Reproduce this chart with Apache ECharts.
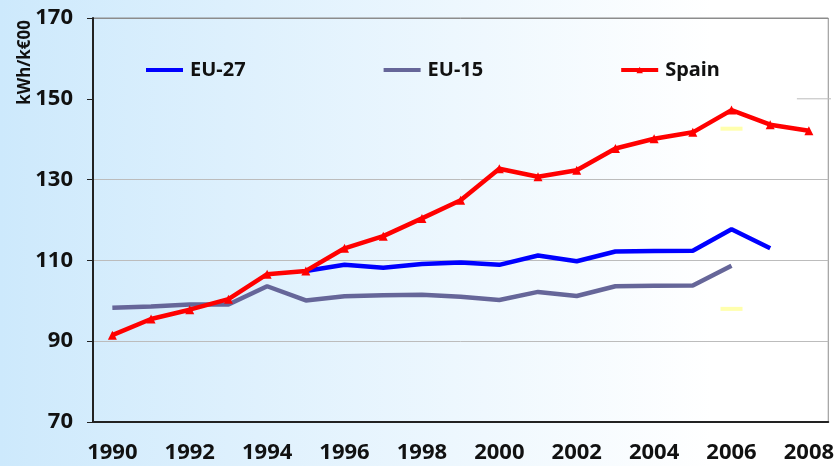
<!DOCTYPE html>
<html>
<head>
<meta charset="utf-8">
<script src="https://cdn.jsdelivr.net/npm/echarts@6/dist/echarts.min.js"></script>
<style>
  html, body { margin: 0; padding: 0; }
  #main { width: 837px; height: 466px; }
</style>
</head>
<body>
<div id="main"></div>
<script>
// 年份
let years = ["1990","1991","1992","1993","1994","1995","1996","1997","1998","1999",
             "2000","2001","2002","2003","2004","2005","2006","2007","2008"]
// 各系列数值 (kWh/k€00)
let eu27 = ["-","-","-","-","-",107.4,108.9,108.2,109.1,109.5,108.9,111.2,109.8,112.2,112.3,112.4,117.7,113.0,"-"]
let eu15 = [98.3,98.6,99.1,99.1,103.6,100.1,101.1,101.4,101.5,101.0,100.2,102.2,101.2,103.6,103.7,103.8,108.7,"-","-"]
let spain = [91.5,95.5,97.8,100.4,106.6,107.4,113.0,116.0,120.4,124.9,132.7,130.7,132.3,137.7,140.1,141.7,147.2,143.6,142.1]
// 2006 的黄色短线
let yellowMarks = [["2006",142.6],["2006",98.0]]

let font = "Noto Sans"
let myChart = echarts.init(document.getElementById('main'))

// 图例里 EU 两条线不要圆点
let noDot = { color: 'rgba(0,0,0,0)', borderWidth: 0 }

var option = {
  backgroundColor: new echarts.graphic.LinearGradient(0, 0, 1, 0, [
    { offset: 0, color: '#cde9fc' },
    { offset: 0.85, color: '#ffffff' },
    { offset: 1, color: '#ffffff' }
  ]),
  animation: false,
  grid: {
    left: 93, right: 6, top: 18, bottom: 44,
    show: true, borderColor: '#8c8c8c', borderWidth: 1,
    backgroundColor: 'transparent'
  },
  legend: {
    data: [
      { name: 'EU-27', itemStyle: noDot },
      { name: 'EU-15', itemStyle: noDot },
      { name: 'Spain' }
    ],
    left: 144, top: 60, padding: 0,
    itemWidth: 37, itemHeight: 8, itemGap: 136,
    lineStyle: { width: 4 },
    textStyle: { fontFamily: font, fontWeight: 'bold', fontSize: 20, color: '#111', padding: [0, 0, 0, 2] }
  },
  xAxis: {
    type: 'category',
    data: years,
    boundaryGap: true,
    axisLine: { lineStyle: { color: '#222', width: 2 } },
    axisTick: { interval: 0, length: 6, lineStyle: { color: '#222' } },
    axisLabel: { interval: 1, margin: 20, fontFamily: font, fontWeight: 'bold', fontSize: 22, color: '#111' }
  },
  yAxis: {
    type: 'value',
    min: 70, max: 170, interval: 20,
    axisLine: { show: true, lineStyle: { color: '#222', width: 2 } },
    axisTick: { show: true, length: 6, lineStyle: { color: '#222' } },
    axisLabel: { margin: 20, fontFamily: font, fontWeight: 'bold', fontSize: 22, color: '#111' },
    splitLine: { lineStyle: { color: ['#bcbcbc', '#bcbcbc', '#bcbcbc', '#bcbcbc', 'rgba(0,0,0,0)', '#8c8c8c'] } }
  },
  graphic: [{
    type: 'text', left: 17, top: 20,
    rotation: Math.PI / 2,
    style: { text: 'kWh/k€00', fontFamily: font, fontWeight: 'bold', fontSize: 17, fill: '#111' }
  }],
  series: [
    {
      name: 'EU-15', type: 'line', data: eu15,
      symbol: 'none', color: '#666699',
      lineStyle: { width: 4.5, color: '#666699' }
    },
    {
      name: 'EU-27', type: 'line', data: eu27,
      symbol: 'none', color: '#0000ff',
      lineStyle: { width: 4.5, color: '#0000ff' }
    },
    {
      name: 'Spain', type: 'line', data: spain,
      symbol: 'triangle', symbolSize: 9, color: '#ff0000',
      itemStyle: { color: '#ff0000' },
      lineStyle: { width: 4.5, color: '#ff0000' }
    },
    {
      name: 'marks', type: 'scatter', data: yellowMarks,
      symbol: 'rect', symbolSize: [22, 4],
      itemStyle: { color: '#ffff99' }, z: 1
    }
  ]
}
myChart.setOption(option)

// 150 网格线只在图例框右边露出一小段
let y150 = myChart.convertToPixel({ yAxisIndex: 0 }, 150)
let xEnd = myChart.convertToPixel({ xAxisIndex: 0 }, '2008')
myChart.setOption({
  graphic: [{}, {
    type: 'line', silent: true,
    shape: { x1: xEnd - 12, y1: y150, x2: 831, y2: y150 },
    style: { stroke: '#bcbcbc', lineWidth: 1 }
  }]
})
</script>
</body>
</html>
